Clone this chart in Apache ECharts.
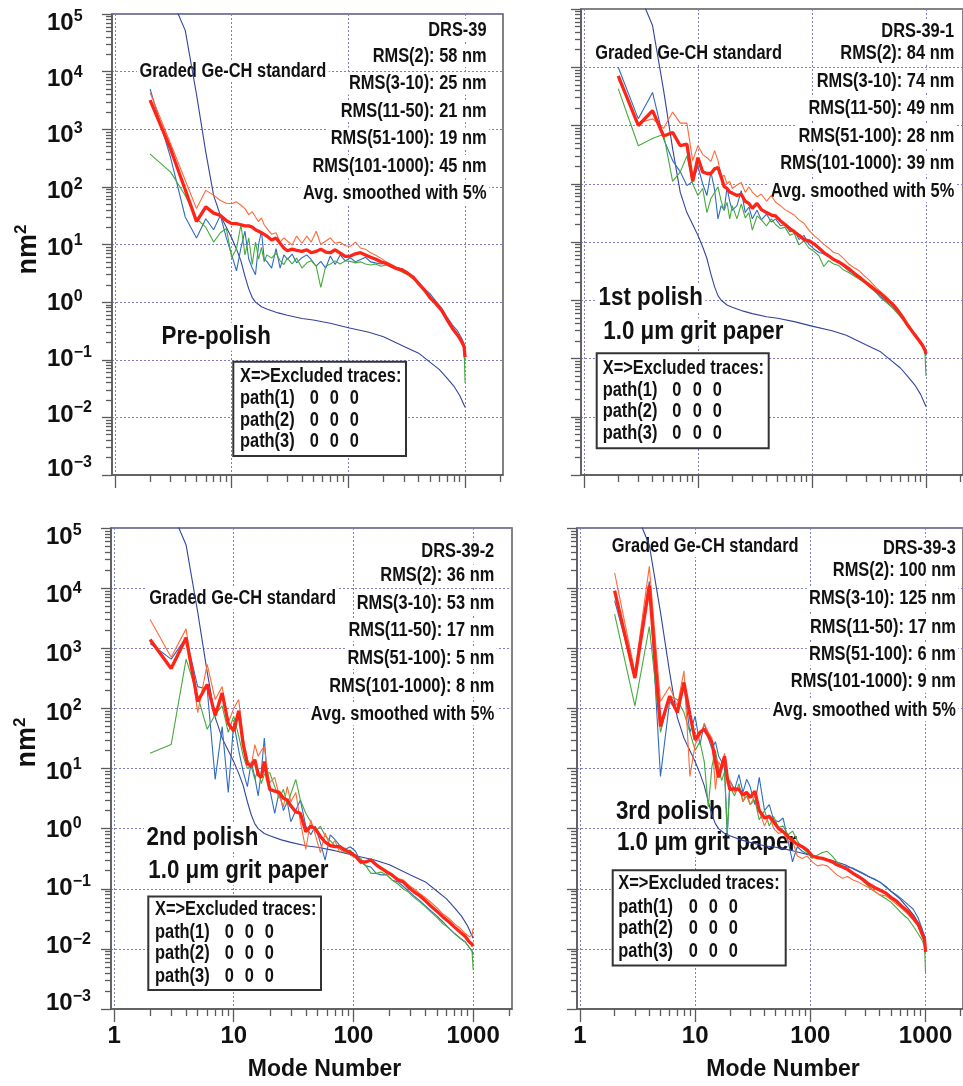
<!DOCTYPE html>
<html>
<head>
<meta charset="utf-8">
<script src="https://cdn.jsdelivr.net/npm/echarts@6/dist/echarts.min.js"></script>
<style>
  html, body { margin: 0; padding: 0; background: #fff; }
  #chart { width: 963px; height: 1086px; }
</style>
</head>
<body>
<div id="chart"></div>
<script>
// Mode numbers at which the measured power spectra are sampled
const modes = [2,3,4,5,6,7,8,9,10,11,12,13,14,15,16,17,18,19,20,
  22,24,26,28,30, 33,36,40,44,48, 53,58,64,70,77, 85,94,104,115,127,
  140,155,170,190,210, 235,260,290,320,360, 400,450,500,560,630,
  700,780,860,930,980,1000];

// Graded Ge-CH standard (same reference curve in every panel), nm^2
const stdModes = [2,3,4,5,6,7,8,9,10,11,12,13,14,15,16,18,20,25,30,40,50,70,100,150,200,300,400,500,600,700,800,900,1000];
const standardPsd = [1.3e6,2.0e5,5.2e4,4000,400,71,32,20,13,8.3,5.2,2.8,1.7,1.2,1.0,0.83,0.76,0.65,0.59,0.52,0.49,0.43,0.36,0.30,0.25,0.17,0.13,0.091,0.068,0.048,0.035,0.024,0.015];

// DRS-39, pre-polish (nm^2)
const drs39Blue = [5000,320,30,13,28,18,32,13,6.6,3.5,8.7,17,5.6,3.9,3.0,10,17,5.6,5.1,
  3.9,8.5,3.9,6.6,5.5, 6.8,4.8,5.9,6.6,5.5, 4.2,5.1,3.9,6.3,4.5, 6.6,5.2,5.9,5.0,5.5,
  6.0,5.0,4.8,4.6,4.8, 4.2,4.0,3.8,3.3,2.8, 2.2,1.7,1.4,1.05,0.79, 0.55,0.40,0.32,0.24,0.19,0.14];
const drs39Green = [370,180,71,28,20,11,16,19,5.9,8.5,22,6.6,13,4.5,11,5.6,8.9,5.0,6.6,
  5.8,7.1,5.2,4.5,5.8, 4.6,5.8,3.9,4.8,5.2, 4.2,1.8,4.2,4.6,5.2, 4.6,5.2,5.1,4.8,5.0,
  4.6,4.4,4.6,4.2,4.4, 4.0,3.7,3.3,3.0,2.5, 2.1,1.6,1.3,0.95,0.72, 0.50,0.36,0.28,0.21,0.17,0.040];
const drs39Orange = [4300,560,130,42,87,72,58,52,51,55,48,42,33,37,30,25,29,22,19,
  15,16,11,13,11.5, 9.8,14,10.5,14,11, 17,10,11.5,13,10.5, 11,9.5,9.3,11,8.7,
  8.3,7.2,6.6,5.8,5.0, 4.5,4.0,3.7,3.0,2.6, 2.2,1.6,1.2,0.91,0.69, 0.46,0.33,0.26,0.20,0.17,0.14];
const drs39Avg = [3200,450,89,25,45,35,32,26,23,23,22,21,21,20,18,17,16,15,14,
  12,13,10.5,8.7,7.8, 8.3,7.9,7.6,8.1,7.2, 7.6,8.3,7.4,7.2,8.1, 7.1,6.2,6.3,6.9,7.2,
  6.6,6.0,5.6,5.0,4.7, 4.2,3.8,3.6,3.2,2.7, 2.1,1.6,1.2,0.95,0.72, 0.50,0.35,0.27,0.21,0.17,0.11];

// DRS-39-1, 1st polish
const drs391Blue = [10000,1300,3700,590,250,160,93,110,200,100,63,160,79,25,42,35,87,50,35,
  42,76,32,40,25, 35,24,30,22,25, 19,20,15,16,11, 13,9.1,7.6,6.6,6.3,
  5.8,5.0,4.6,3.8,3.2, 2.8,2.5,2.1,1.7,1.4, 1.15,0.95,0.79,0.63,0.46, 0.35,0.26,0.21,0.17,0.14,0.11];
const drs391Green = [4300,450,600,710,110,160,300,100,63,83,32,56,71,89,50,35,48,25,42,
  25,45,26,32,16, 28,24,19,25,20, 17,18,13,14,8.9, 10.5,7.9,6.9,5.8,3.8,
  4.8,4.2,4.0,3.3,3.0, 2.6,2.3,2.0,1.7,1.4, 1.1,0.91,0.76,0.60,0.46, 0.35,0.26,0.20,0.16,0.13,0.050];
const drs391Orange = [6300,1100,1300,890,1700,1100,1100,250,450,320,280,240,370,250,130,140,100,110,83,
  95,105,71,89,72, 60,66,50,63,48, 42,36,32,29,24, 21,16,13,11,9.1,
  7.9,6.6,6.3,5.2,4.2, 3.6,3.2,2.6,2.2,1.7, 1.4,1.15,0.91,0.72,0.52, 0.38,0.28,0.22,0.17,0.14,0.13];
const drs391Avg = [7100,1000,1800,660,760,450,480,110,280,160,150,150,180,190,130,89,83,72,69,
  63,66,50,46,38, 46,36,32,29,28, 23,20,17,15,13, 11,10.5,9.3,7.9,6.6,
  5.8,5.0,4.6,4.0,3.5, 2.9,2.5,2.1,1.8,1.5, 1.3,1.05,0.89,0.69,0.50, 0.36,0.27,0.21,0.17,0.14,0.12];

// DRS-39-2, 2nd polish
const drs392Blue = [1200,660,1500,230,210,6.6,50,4.0,58,20,8.9,5.0,13,7.1,3.5,8.9,32,7.9,4.5,
  1.8,4.2,2.0,2.8,1.3, 2.0,3.0,1.1,0.79,1.1, 0.58,0.30,0.79,0.66,0.52, 0.45,0.50,0.42,0.28,0.24,
  0.23,0.18,0.17,0.17,0.14, 0.13,0.11,0.091,0.076,0.063, 0.052,0.042,0.035,0.028,0.022, 0.018,0.015,0.013,0.0105,0.0093,0.0079];
const drs392Green = [18,25,660,160,45,79,110,40,74,35,16,10,11,6.6,10,5.6,7.9,8.5,8.5,
  5.0,3.2,4.5,2.5,3.8, 6.6,3.0,1.8,1.3,0.89, 1.1,0.76,0.63,0.52,0.46, 0.40,0.44,0.36,0.32,0.24,
  0.18,0.18,0.19,0.17,0.14, 0.12,0.10,0.087,0.072,0.060, 0.050,0.040,0.033,0.026,0.022, 0.018,0.015,0.013,0.0105,0.0091,0.0045];
const drs392Orange = [3000,710,2100,85,540,140,230,58,100,140,32,14,11,25,16,20,23,10,5.8,
  7.1,3.5,2.3,5.0,2.8, 4.0,1.3,0.45,1.4,0.79, 0.40,0.85,0.50,0.63,0.40, 0.48,0.36,0.33,0.26,0.28,
  0.32,0.26,0.22,0.18,0.17, 0.15,0.14,0.115,0.10,0.083, 0.071,0.058,0.048,0.038,0.032, 0.026,0.022,0.018,0.016,0.017,0.022];
const drs392Avg = [1400,460,1500,130,250,76,180,56,42,91,25,12,11,14,7.9,7.1,13,7.1,4.5,
  4.2,4.0,3.2,3.0,2.4, 1.9,1.8,0.89,1.1,1.0, 0.74,0.60,0.52,0.50,0.50, 0.44,0.40,0.35,0.28,0.28,
  0.30,0.25,0.22,0.19,0.17, 0.14,0.13,0.105,0.089,0.076, 0.063,0.050,0.042,0.034,0.028, 0.023,0.019,0.016,0.013,0.012,0.011];

// DRS-39-3, 3rd polish
const drs393Blue = [6200,350,13000,7.4,130,89,230,40,74,25,56,32,21,28,16,13,10,0.74,6.3,
  4.5,7.9,4.0,6.6,5.0, 2.5,7.1,2.0,2.5,1.4, 1.3,1.5,0.63,0.28,0.50, 0.42,0.38,0.36,0.32,0.33,
  0.30,0.29,0.26,0.24,0.23, 0.22,0.20,0.18,0.16,0.145, 0.13,0.11,0.091,0.079,0.066, 0.055,0.046,0.033,0.022,0.016,0.013];
const drs393Green = [3700,110,2300,40,160,140,85,40,20,28,13,2.3,11,20,10,6.3,8.9,0.85,5.0,
  3.5,5.6,2.8,3.5,2.5, 3.0,1.4,2.0,1.1,1.6, 1.05,1.1,0.79,0.91,0.63, 0.48,0.40,0.32,0.36,0.40,
  0.42,0.35,0.28,0.24,0.21, 0.18,0.16,0.13,0.11,0.091, 0.079,0.069,0.060,0.048,0.038, 0.032,0.024,0.018,0.014,0.011,0.0040];
const drs393Orange = [18000,400,23000,130,230,110,420,7.4,25,35,56,40,32,4.5,13,10,18,5.6,6.3,
  4.0,5.0,2.8,4.2,2.5, 3.5,2.0,1.1,1.7,1.0, 0.83,0.89,0.60,0.63,0.35, 0.32,0.35,0.28,0.24,0.25,
  0.24,0.20,0.17,0.15,0.16, 0.14,0.13,0.115,0.105,0.091, 0.079,0.076,0.066,0.055,0.046, 0.038,0.030,0.024,0.017,0.014,0.010];
const drs393Avg = [9100,320,11000,50,160,85,270,79,30,40,45,35,27,13,7.1,11,16,7.1,4.5,
  4.6,4.5,3.6,4.0,3.3, 4.2,2.0,1.5,1.6,1.3, 1.0,0.89,0.74,0.63,0.55, 0.50,0.44,0.35,0.33,0.32,
  0.30,0.28,0.25,0.23,0.21, 0.18,0.16,0.14,0.12,0.105, 0.095,0.085,0.072,0.062,0.050, 0.042,0.033,0.026,0.018,0.014,0.0089];

// Panel annotations
const sampleIds    = ['DRS-39', 'DRS-39-1', 'DRS-39-2', 'DRS-39-3'];
const rms2         = [58, 84, 36, 100];
const rms3to10     = [25, 74, 53, 125];
const rms11to50    = [21, 49, 17, 17];
const rms51to100   = [19, 28, 5, 6];
const rms101to1000 = [45, 39, 8, 9];
const stageLabels  = [['Pre-polish'], ['1st polish', '1.0 \u03bcm grit paper'],
                      ['2nd polish', '1.0 \u03bcm grit paper'], ['3rd polish', '1.0 \u03bcm grit paper']];
const excluded     = [[[0,0,0],[0,0,0],[0,0,0]], [[0,0,0],[0,0,0],[0,0,0]],
                      [[0,0,0],[0,0,0],[0,0,0]], [[0,0,0],[0,0,0],[0,0,0]]];

// Axis ticks
const xMajor = [1, 10, 100, 1000];
const yMajor = [1e-3, 1e-2, 1e-1, 1, 10, 100, 1000, 1e4, 1e5];

const panelBlue   = [drs39Blue, drs391Blue, drs392Blue, drs393Blue];
const panelGreen  = [drs39Green, drs391Green, drs392Green, drs393Green];
const panelOrange = [drs39Orange, drs391Orange, drs392Orange, drs393Orange];
const panelAvg    = [drs39Avg, drs391Avg, drs392Avg, drs393Avg];

// ---------------------------------------------------------------
function minorTicks(lo, hi) {
  const out = [];
  for (let d = lo; d <= hi; d++) {
    for (let k = 2; k <= 9; k++) out.push(Number((k * Math.pow(10, d)).toPrecision(3)));
  }
  return out;
}
const xMinor = minorTicks(0, 3);
const yMinor = minorTicks(-3, 4);

const X_MIN = 0.943, X_MAX = 2113;
const Y_MIN = 1e-3, Y_MAX = 1e5;
const SANS = "'Liberation Sans',Arial,Helvetica,sans-serif";
const INK = '#111';
const FRAME = '#5a5a5a';
const GRIDC = '#7f7fc6';
const C = { blue: '#2f6cc0', green: '#46aa3c', orange: '#ff6a3a', avg: '#ff2418', std: '#33449c' };

const layout = [
  { grid: { left: 112, top: 9, width: 391, height: 466 }, yLab: true, xLab: false, namePad: [0, 10, 0, 0],
    std: [137, 71], rmsRight: 489, rmsY: [30, 56, 83.5, 111, 138.5, 166, 193.5],
    stage: [[159, 336.7]], box: [233.3, 361.7, 172.7, 94.3], boxX: 240,
    rows: [376.7, 398.3, 420, 441.7], zeros: [314.3, 334.3, 354.3] },
  { grid: { left: 581, top: 9, width: 387.3, height: 466 }, yLab: false, xLab: false,
    std: [592.7, 53.3], rmsRight: 956.7, rmsY: [31.7, 53.3, 81, 108.3, 136, 163.3, 191],
    stage: [[596, 297.7], [600.7, 332.3]], box: [596.7, 353.3, 172, 95], boxX: 602.7,
    rows: [368.3, 390, 411.7, 433.3], zeros: [676.7, 697.3, 717.3] },
  { grid: { left: 111, top: 528, width: 401, height: 481 }, yLab: true, xLab: true, namePad: [0, 0, 0, 52],
    std: [146.7, 598.2], rmsRight: 496.7, rmsY: [551.4, 575.8, 603, 630, 658, 686, 714.2],
    stage: [[144, 837.6], [145.7, 871.3]], box: [148.3, 896.4, 172.7, 93.5], boxX: 155,
    rows: [909.8, 932.3, 953.6, 976], zeros: [229.3, 249.3, 269.3] },
  { grid: { left: 577, top: 528, width: 395.4, height: 481 }, yLab: false, xLab: true,
    std: [609.3, 546], rmsRight: 958.3, rmsY: [548.6, 570.5, 598.7, 627, 654.5, 681.7, 710],
    stage: [[613.3, 811.8], [614.3, 843]], box: [612.7, 870.2, 173, 95.4], boxX: 618.3,
    rows: [883.4, 907.1, 928.6, 951.2], zeros: [693.3, 713.3, 733.3] }
];

const tickStyle = { color: FRAME, width: 1.3 };

// Decade labels sit slightly toward the middle of the axis; the offset (px, + = down)
// is applied with a spacer line above or below the label text.
const labelShift = { '5': 8, '4': 6, '3': 5, '2': 3, '1': 2, '0': 0, '-1': -2, '-2': -4, '-3': -7 };
const labelRich = {
  b: { fontFamily: SANS, fontWeight: 'bold', fontSize: 24, color: INK, lineHeight: 27, verticalAlign: 'bottom' },
  s: { fontFamily: SANS, fontWeight: 'bold', fontSize: 16, color: INK, lineHeight: 16, verticalAlign: 'top' }
};
Object.keys(labelShift).forEach(k => {
  const h = Math.abs(labelShift[k]) * 2;
  if (h) labelRich['gap' + h] = { fontSize: 1, lineHeight: h };
});
function expLabel(v) {
  const e = Math.round(Math.log10(v));
  const core = '{b|10}{s|' + (e < 0 ? '\u2212' + (-e) : String(e)) + '}';
  const d = labelShift[String(e)] || 0;
  const gap = '{gap' + Math.abs(d) * 2 + '| }';
  if (d > 0) return gap + '\n' + core;
  if (d < 0) return core + '\n' + gap;
  return core;
}

const grids = [], xAxes = [], yAxes = [], series = [], elements = [];

layout.forEach((L, i) => {
  grids.push(Object.assign({ show: true, borderColor: FRAME, borderWidth: 1.5, backgroundColor: 'rgba(0,0,0,0)' }, L.grid));

  // major x axis (with dotted decade grid)
  xAxes.push({
    type: 'log', logBase: 10, gridIndex: i, min: X_MIN, max: X_MAX, position: 'bottom',
    axisLine: { show: true, onZero: false, lineStyle: { color: FRAME, width: 1.5 } },
    axisTick: { show: true, length: 13, customValues: xMajor, lineStyle: tickStyle },
    axisLabel: {
      show: L.xLab, customValues: xMajor, margin: 15,
      formatter: v => String(Math.round(v)),
      fontFamily: SANS, fontWeight: 'bold', fontSize: 24, color: INK
    },
    splitLine: { show: true, lineStyle: { type: [2, 2], color: GRIDC, width: 1 } },
    name: L.xLab ? 'Mode Number' : '', nameLocation: 'middle', nameGap: 49,
    nameTextStyle: { fontFamily: SANS, fontWeight: 'bold', fontSize: 23, color: INK, padding: [0, 0, 0, 26] }
  });
  // minor x ticks
  xAxes.push({
    type: 'log', logBase: 10, gridIndex: i, min: X_MIN, max: X_MAX, position: 'bottom',
    axisLine: { show: false, onZero: false },
    axisTick: { show: true, length: 7, customValues: xMinor, lineStyle: tickStyle },
    axisLabel: { show: false }, splitLine: { show: false }
  });

  // major y axis
  yAxes.push({
    type: 'log', logBase: 10, gridIndex: i, min: Y_MIN, max: Y_MAX, position: 'left',
    axisLine: { show: true, onZero: false, lineStyle: { color: FRAME, width: 1.5 } },
    axisTick: { show: true, length: 10, customValues: yMajor, lineStyle: tickStyle },
    axisLabel: {
      show: L.yLab, customValues: yMajor, align: 'left', margin: 65,
      formatter: expLabel, rich: labelRich
    },
    splitLine: { show: true, lineStyle: { type: [2, 2], color: GRIDC, width: 1 } },
    name: L.yLab ? '{n|nm}{s|2}' : '', nameLocation: 'middle', nameRotate: 90, nameGap: 70,
    nameTextStyle: {
      padding: L.namePad || 0,
      rich: {
        n: { fontFamily: SANS, fontWeight: 'bold', fontSize: 27, color: INK, lineHeight: 29, verticalAlign: 'bottom' },
        s: { fontFamily: SANS, fontWeight: 'bold', fontSize: 17, color: INK, lineHeight: 17, verticalAlign: 'top' }
      }
    }
  });
  // minor y ticks
  yAxes.push({
    type: 'log', logBase: 10, gridIndex: i, min: Y_MIN, max: Y_MAX, position: 'left',
    axisLine: { show: false, onZero: false },
    axisTick: { show: true, length: 6, customValues: yMinor, lineStyle: tickStyle },
    axisLabel: { show: false }, splitLine: { show: false }
  });

  const xi = 2 * i, yi = 2 * i;
  const line = (name, xs, ys, color, width, z) => ({
    type: 'line', name, xAxisIndex: xi, yAxisIndex: yi, z,
    data: xs.map((m, k) => [m, ys[k]]),
    symbol: 'none', clip: true, silent: true,
    lineStyle: { color, width }
  });
  series.push(line('Graded Ge-CH standard', stdModes, standardPsd, C.std, 1.1, 2));
  series.push(line('path 1', modes, panelBlue[i], C.blue, 1.1, 2));
  series.push(line('path 2', modes, panelGreen[i], C.green, 1.1, 2));
  series.push(line('path 3', modes, panelOrange[i], C.orange, 1.1, 2));
  series.push(line('average', modes, panelAvg[i], C.avg, 3.3, 3));

  // ---- annotations ----
  const txt = (x, y, text, size, k, align, bg) => ({
    type: 'text', x, y, z: 1, scaleX: k, silent: true,
    style: {
      text, fill: INK, fontFamily: SANS, fontWeight: 'bold', fontSize: size,
      align, textAlign: align, verticalAlign: 'middle', textVerticalAlign: 'middle',
      backgroundColor: bg ? '#fff' : 'transparent', padding: bg ? [1, 3, 1, 3] : 0
    }
  });
  elements.push(txt(L.std[0], L.std[1], 'Graded Ge-CH standard', 20, 0.82, 'left', true));
  const rmsLines = [
    sampleIds[i],
    'RMS(2): ' + rms2[i] + ' nm',
    'RMS(3-10): ' + rms3to10[i] + ' nm',
    'RMS(11-50): ' + rms11to50[i] + ' nm',
    'RMS(51-100): ' + rms51to100[i] + ' nm',
    'RMS(101-1000): ' + rms101to1000[i] + ' nm',
    'Avg. smoothed with 5%'
  ];
  rmsLines.forEach((t, r) => elements.push(txt(L.rmsRight, L.rmsY[r], t, 20, 0.82, 'right', true)));
  stageLabels[i].forEach((t, r) => elements.push(txt(L.stage[r][0], L.stage[r][1], t, 26, 0.86, 'left', true)));

  const [bx, by, bw, bh] = L.box;
  elements.push({
    type: 'rect', z: 1, silent: true,
    shape: { x: bx, y: by, width: bw, height: bh },
    style: { fill: '#fff', stroke: '#333', lineWidth: 2 }
  });
  elements.push(txt(L.boxX, L.rows[0], 'X=>Excluded traces:', 20, 0.82, 'left', false));
  excluded[i].forEach((flags, p) => {
    elements.push(txt(L.boxX, L.rows[p + 1], 'path(' + (p + 1) + ')', 20, 0.82, 'left', false));
    flags.forEach((f, q) => elements.push(txt(L.zeros[q], L.rows[p + 1], String(f), 20, 0.82, 'center', false)));
  });
});

const chart = echarts.init(document.getElementById('chart'), null, { renderer: 'canvas' });
chart.setOption({
  animation: false,
  backgroundColor: '#fff',
  grid: grids,
  xAxis: xAxes,
  yAxis: yAxes,
  series,
  graphic: { elements }
});
</script>
</body>
</html>
